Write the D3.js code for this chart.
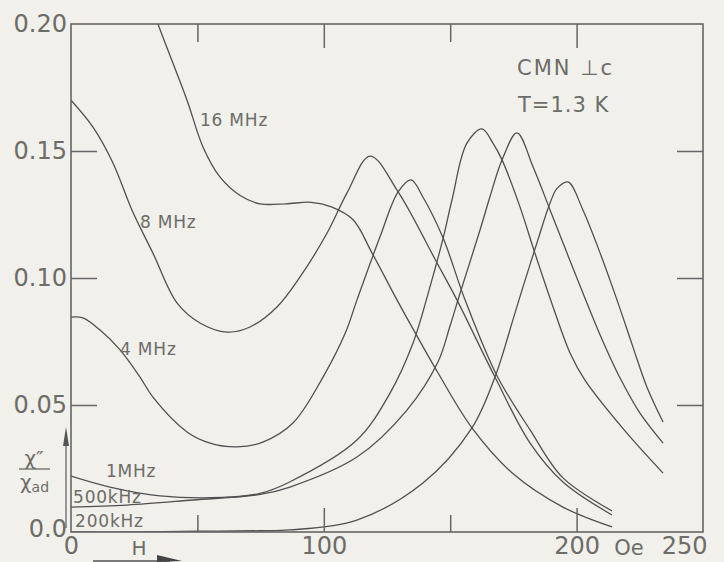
<!DOCTYPE html>
<html>
<head>
<meta charset="utf-8">
<script src="https://cdn.jsdelivr.net/npm/d3@7"></script>
<style>
body{margin:0;background:#f1f0eb;}
svg{display:block;}
text{font-family:"DejaVu Sans",sans-serif;fill:#6c6c68;}
</style>
</head>
<body>
<div id="chart"></div>
<script>
// field H (Oe) and chi''/chi_ad, one pair of arrays per frequency
var h16 = [28, 34.4, 45.9, 52.2, 58.9, 66.9, 74.8, 85, 95, 103, 111.5, 119, 129, 136, 145.2, 158.6, 174.8, 194.6, 214];
var chi16 = [0.218, 0.200, 0.170, 0.1516, 0.1398, 0.1325, 0.1292, 0.1292, 0.1298, 0.128, 0.123, 0.110, 0.0913, 0.0787, 0.0626, 0.041, 0.023, 0.0098, 0.002];

var h8 = [0, 8.7, 16.6, 24.1, 32.4, 41.9, 51, 61.7, 70.8, 81.5, 90.6, 101.3, 109.2, 118.3, 129.4, 144.8, 152.7, 167.7, 181.6, 194.6, 214];
var chi8 = [0.170, 0.1594, 0.1453, 0.1268, 0.1098, 0.0902, 0.0823, 0.0787, 0.0807, 0.0886, 0.1004, 0.1177, 0.1335, 0.148, 0.1339, 0.1059, 0.0913, 0.061, 0.035, 0.0197, 0.0067];

var h4 = [0, 4.7, 11.5, 19.4, 27.3, 32.4, 45.9, 55, 65.7, 75.9, 87.8, 99.7, 108.5, 113.1, 122.2, 129.4, 134.5, 139.2, 147.2, 155.9, 168.5, 181.6, 194.6, 214];
var chi4 = [0.0846, 0.0843, 0.0795, 0.0717, 0.061, 0.0531, 0.0394, 0.035, 0.0335, 0.0354, 0.0429, 0.061, 0.0783, 0.0913, 0.1161, 0.1339, 0.1386, 0.1319, 0.1157, 0.0913, 0.0615, 0.0402, 0.0213, 0.0083];

var h1 = [0, 15.4, 35.2, 60, 74.8, 86.5, 113.1, 126.2, 135.3, 142, 147.2, 150.7, 156.6, 162.6, 166.9, 170.5, 177.6, 183.5, 190.7, 197.4, 203.3, 218.8, 234.2];
var chi1 = [0.022, 0.0177, 0.0142, 0.0136, 0.0152, 0.0197, 0.0362, 0.0547, 0.0744, 0.0965, 0.1157, 0.1307, 0.1531, 0.1587, 0.1531, 0.1465, 0.128, 0.1098, 0.0886, 0.0705, 0.0598, 0.0402, 0.0232];

var h500 = [0, 22.2, 48.3, 74.8, 86.6, 113.1, 132.9, 145.2, 149.9, 153.9, 161.8, 165.7, 170.5, 176.4, 182.8, 189.5, 196.2, 202.5, 209.3, 217.2, 225, 234.2];
var chi500 = [0.0098, 0.0106, 0.0126, 0.0148, 0.0177, 0.0295, 0.048, 0.067, 0.081, 0.094, 0.1189, 0.1319, 0.1465, 0.1571, 0.1437, 0.1268, 0.1098, 0.0941, 0.0776, 0.0606, 0.0469, 0.035];

var h200 = [0, 25, 51, 74.8, 86.6, 113.1, 139.2, 158.6, 167.7, 170.9, 174.8, 178.8, 184.3, 189.5, 192.2, 196.6, 202.5, 209.3, 216, 222.3, 227.8, 234.2];
var chi200 = [0, 0, 0.0003, 0.0005, 0.0008, 0.0047, 0.0193, 0.041, 0.061, 0.0705, 0.0835, 0.0965, 0.1138, 0.1295, 0.1352, 0.1378, 0.1268, 0.1098, 0.0913, 0.0728, 0.0571, 0.0433];

var names = ["16 MHz", "8 MHz", "4 MHz", "1MHz", "500kHz", "200kHz"];
// where each name is written, in data units (left edge, baseline)
var labelH = [51, 27.3, 19.4, 13.8, 0.8, 1.6];
var labelChi = [0.160, 0.1197, 0.0697, 0.0217, 0.0114, 0.002];

var xTicks = [0, 100, 200, 250];
var yTicks = [0, 0.05, 0.10, 0.15, 0.20];
var yTickText = ["0.0", "0.05", "0.10", "0.15", "0.20"];

var series = [[h16, chi16], [h8, chi8], [h4, chi4], [h1, chi1], [h500, chi500], [h200, chi200]].map(function(s) {
    return s[0].map(function(h, i) { return [h, s[1][i]]; });
});

var W = 724, H = 562;
var pLeft = 71, pRight = 703, pTop = 24, pBottom = 532;

var svg = d3.select("#chart").append("svg")
    .attr("width", W)
    .attr("height", H);

var x = d3.scaleLinear().domain([0, 250]).range([pLeft, pRight]);
var y = d3.scaleLinear().domain([0, 0.2]).range([pBottom, pTop]);

svg.append("clipPath").attr("id", "plot")
  .append("rect")
    .attr("x", pLeft).attr("y", pTop)
    .attr("width", pRight - pLeft).attr("height", pBottom - pTop);

var valueline = d3.line()
    .x(function(d) { return x(d[0]); })
    .y(function(d) { return y(d[1]); })
    .curve(d3.curveCatmullRom.alpha(0.5));

svg.append("g")
    .attr("clip-path", "url(#plot)")
  .selectAll("path")
  .data(series)
  .enter().append("path")
    .attr("d", valueline)
    .attr("fill", "none")
    .attr("stroke", "#505050")
    .attr("stroke-width", 1.3);

// inward ticks, long at 100/200, short at 50/150
function ticks(g, axis) {
    g.call(axis);
    g.select(".domain").remove();
    g.selectAll("line").attr("stroke", "#666").attr("stroke-width", 1.5);
}
svg.append("g").attr("transform", "translate(0," + pBottom + ")")
    .call(ticks, d3.axisBottom(x).tickValues([100, 200]).tickSize(-24).tickFormat(""));
svg.append("g").attr("transform", "translate(0," + pBottom + ")")
    .call(ticks, d3.axisBottom(x).tickValues([50, 150]).tickSize(-17).tickFormat(""));
svg.append("g").attr("transform", "translate(0," + pTop + ")")
    .call(ticks, d3.axisTop(x).tickValues([100, 200]).tickSize(-24).tickFormat(""));
svg.append("g").attr("transform", "translate(0," + pTop + ")")
    .call(ticks, d3.axisTop(x).tickValues([50, 150]).tickSize(-18).tickFormat(""));
svg.append("g").attr("transform", "translate(" + pLeft + ",0)")
    .call(ticks, d3.axisLeft(y).tickValues([0.05, 0.10, 0.15]).tickSize(-26).tickFormat(""));
svg.append("g").attr("transform", "translate(" + pRight + ",0)")
    .call(ticks, d3.axisRight(y).tickValues([0.05, 0.10, 0.15]).tickSize(-26).tickFormat(""));

svg.append("rect")
    .attr("x", pLeft).attr("y", pTop)
    .attr("width", pRight - pLeft).attr("height", pBottom - pTop)
    .attr("fill", "none")
    .attr("stroke", "#666")
    .attr("stroke-width", 1.6);

// tick labels
var yAxis = svg.append("g")
    .attr("transform", "translate(" + pLeft + ",0)")
    .call(d3.axisLeft(y).tickValues(yTicks).tickSize(0).tickPadding(4)
        .tickFormat(function(d, i) { return yTickText[i]; }))
    .attr("font-size", 24);
yAxis.select(".domain").remove();
yAxis.selectAll(".tick text")
    .filter(function(d) { return d === 0; })
    .attr("y", -3);

var xAxis = svg.append("g")
    .attr("transform", "translate(0," + pBottom + ")")
    .call(d3.axisBottom(x).tickValues(xTicks).tickSize(0).tickPadding(5).tickFormat(d3.format("d")))
    .attr("font-size", 24);
xAxis.select(".domain").remove();
xAxis.selectAll(".tick text")
    .filter(function(d) { return d === 250; })
    .attr("text-anchor", "end")
    .attr("x", 4);

svg.append("text")
    .attr("x", x(250) - 74)
    .attr("y", 555)
    .attr("text-anchor", "middle")
    .attr("font-size", 21)
    .text("Oe");

// curve names
svg.append("g").selectAll("text")
  .data(names)
  .enter().append("text")
    .attr("x", function(d, i) { return x(labelH[i]); })
    .attr("y", function(d, i) { return y(labelChi[i]); })
    .attr("font-size", 17)
    .attr("letter-spacing", 0.8)
    .text(function(d) { return d; });

svg.append("text")
    .attr("x", 517).attr("y", 75)
    .attr("font-size", 21)
    .attr("letter-spacing", 2)
    .text("CMN \u22A5c");
svg.append("text")
    .attr("x", 518).attr("y", 112)
    .attr("font-size", 21)
    .attr("letter-spacing", 1)
    .text("T=1.3 K");

// y label: chi''/chi_ad with arrow
svg.append("text")
    .attr("x", 34).attr("y", 465)
    .attr("text-anchor", "middle")
    .attr("font-size", 20)
    .text("\u03C7\u2033");
svg.append("line")
    .attr("x1", 19).attr("x2", 50)
    .attr("y1", 469).attr("y2", 469)
    .attr("stroke", "#666").attr("stroke-width", 1.3);
var den = svg.append("text")
    .attr("x", 20).attr("y", 489)
    .attr("font-size", 20)
    .text("\u03C7");
den.append("tspan")
    .attr("font-size", 14)
    .attr("dy", 3)
    .text("ad");

svg.append("line")
    .attr("x1", 66).attr("x2", 66)
    .attr("y1", 528).attr("y2", 440)
    .attr("stroke", "#666").attr("stroke-width", 1.3);
svg.append("path")
    .attr("d", "M66,427 L63,446 L69,446 Z")
    .attr("fill", "#555");

// x label: H with arrow
svg.append("text")
    .attr("x", 139).attr("y", 555)
    .attr("text-anchor", "middle")
    .attr("font-size", 20)
    .text("H");
svg.append("line")
    .attr("x1", 93).attr("x2", 170)
    .attr("y1", 561).attr("y2", 561)
    .attr("stroke", "#555").attr("stroke-width", 1.5);
svg.append("path")
    .attr("d", "M182,561 L157,555 L157,562 Z")
    .attr("fill", "#444");
</script>
</body>
</html>
